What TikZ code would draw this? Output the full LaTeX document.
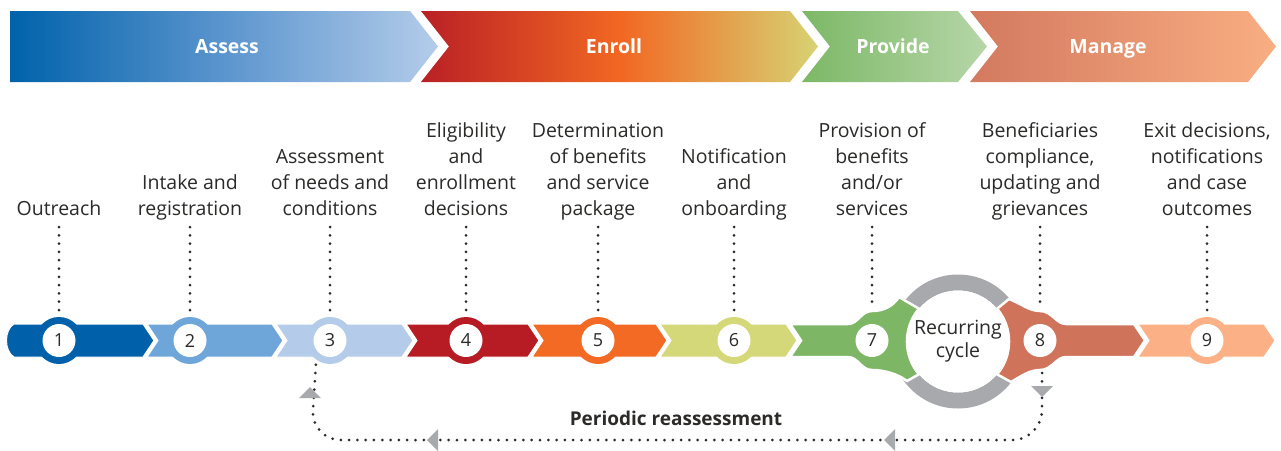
\documentclass[tikz,border=0pt]{standalone}
\usepackage{fontspec}
\setmainfont{Open Sans}
\definecolor{c1}{HTML}{0061AA}
\definecolor{c2}{HTML}{6FA6D9}
\definecolor{c3}{HTML}{B4CBEA}
\definecolor{c4}{HTML}{B71C25}
\definecolor{c5}{HTML}{F36A24}
\definecolor{c6}{HTML}{D5D878}
\definecolor{c7}{HTML}{7DB766}
\definecolor{c8}{HTML}{CF745B}
\definecolor{c9}{HTML}{FBB086}
\definecolor{cg}{HTML}{A7A9AC}
\definecolor{tx}{HTML}{2B2A29}
\definecolor{aL}{HTML}{0062AA}
\definecolor{aM}{HTML}{5B95CE}
\definecolor{aR}{HTML}{B4CCEA}
\definecolor{eL}{HTML}{B92025}
\definecolor{eM}{HTML}{F26722}
\definecolor{eR}{HTML}{D7D373}
\definecolor{pL}{HTML}{7CB866}
\definecolor{pR}{HTML}{B6D6A8}
\definecolor{mL}{HTML}{D3795F}
\definecolor{mR}{HTML}{F9AE82}
\begin{document}
\begin{tikzpicture}[x=1pt,y=-1pt,
  seg/.style={draw=white, line width=1pt, line join=miter},
  ring/.style={circle, minimum size=47pt, inner sep=0pt},
  num/.style={circle, fill=white, minimum size=33pt, inner sep=0pt, font=\fontsize{18}{20}\selectfont, text=tx},
  lbl/.style={anchor=south, align=center, font=\fontsize{19.5}{26}\selectfont, text=tx, inner sep=0pt, execute at end node=\strut},
  ban/.style={anchor=base, font=\bfseries\fontsize{19.5}{22}\selectfont, text=white},
  dotline/.style={draw=tx, line width=3pt, line cap=round, dash pattern=on 0pt off 8.3pt},
  tri/.style={fill=cg}]
\useasboundingbox (0,0) rectangle (1281,450);

% ---- top banner ----
\shade[left color=aL, right color=aR, middle color=aM] (10,11) -- (410,11) -- (438,46.5) -- (410,82) -- (10,82) -- cycle;
\shade[left color=eL, right color=eR, middle color=eM] (421,11) -- (790,11) -- (818,46.5) -- (790,82) -- (421,82) -- (449,46.5) -- cycle;
\shade[left color=pL, right color=pR] (802,11) -- (958,11) -- (987,46.5) -- (958,82) -- (802,82) -- (830,46.5) -- cycle;
\shade[left color=mL, right color=mR] (970,11) -- (1248,11) -- (1276,46.5) -- (1248,82) -- (970,82) -- (998,46.5) -- cycle;
\node[ban] (bA) at (227,53.5) {Assess};
\node[ban] (bE) at (614,53.5) {Enroll};
\node[ban] (bP) at (893,53.5) {Provide};
\node[ban] (bM) at (1108,53.5) {Manage};

% ---- bottom bar segments ----
\path[seg, fill=c1] (14,324) -- (143,324) -- (154,340.5) -- (143,357) -- (14,357) .. controls (4,351) and (4,330) .. (14,324) -- cycle;
\path[seg, fill=c2] (147,324) -- (272,324) -- (283,340.5) -- (272,357) -- (147,357) -- (158,340.5) -- cycle;
\path[seg, fill=c3] (276,324) -- (402,324) -- (413,340.5) -- (402,357) -- (276,357) -- (287,340.5) -- cycle;
\path[seg, fill=c4] (406,324) -- (528,324) -- (539,340.5) -- (528,357) -- (406,357) -- (417,340.5) -- cycle;
\path[seg, fill=c5] (532,324) -- (656,324) -- (667,340.5) -- (656,357) -- (532,357) -- (543,340.5) -- cycle;
\path[seg, fill=c6] (660,324) -- (786,324) -- (797,340.5) -- (786,357) -- (660,357) -- (671,340.5) -- cycle;

% recurring cycle ring
\path[fill=cg, even odd rule] (958,341.5) circle (67) (958,341.5) circle (51);

\path[seg, fill=c7, line width=2.5pt] (790,324) -- (848,324) .. controls (858,324) and (861,311) .. (872,311) .. controls (884,311) and (893,306) .. (899,297) -- (918.9,308.7) arc[start angle=-140, end angle=-220, radius=51] -- (907,381) .. controls (898,374) and (884,370) .. (872,370) .. controls (861,370) and (858,357) .. (848,357) -- (790,357) -- (801,340.5) -- cycle;
\path[seg, fill=c8, line width=2.5pt] (997.1,308.7) -- (1009,299) .. controls (1020,303) and (1029,311) .. (1040,311) .. controls (1052,311) and (1056,324) .. (1066,324) -- (1134,324) -- (1145,340.5) -- (1134,357) -- (1066,357) .. controls (1056,357) and (1052,370) .. (1040,370) .. controls (1029,370) and (1020,377) .. (1011,382) -- (997.1,374.3) arc[start angle=40, end angle=-40, radius=51] -- cycle;
\path[seg, fill=c9] (1138,324) -- (1264,324) -- (1275,340.5) -- (1264,357) -- (1138,357) -- (1149,340.5) -- cycle;

\node[circle, fill=white, minimum size=102pt, inner sep=0pt, align=center, font=\fontsize{19.5}{23}\selectfont, text=tx] (cyc) at (958,341.5) {Recurring\\cycle};

% ---- rings and numbers ----
\foreach \i/\x in {1/59,2/190,3/330,4/466,5/598,6/734,7/872,8/1040,9/1207}{
  \node[ring, fill=c\i] (r\i) at (\x,340.5) {};
  \node[num] (n\i) at (\x,340.5) {\i};
}

% ---- step labels ----
\node[lbl] (l1) at (59,223) {Outreach};
\node[lbl] (l2) at (190,223) {Intake and\\registration};
\node[lbl] (l3) at (330,223) {Assessment\\of needs and\\conditions};
\node[lbl] (l4) at (466,223) {Eligibility\\and\\enrollment\\decisions};
\node[lbl] (l5) at (598,223) {Determination\\of benefits\\and service\\package};
\node[lbl] (l6) at (734,223) {Notification\\and\\onboarding};
\node[lbl] (l7) at (872,223) {Provision of\\benefits\\and/or\\services};
\node[lbl] (l8) at (1040,223) {Beneficiaries\\compliance,\\updating and\\grievances};
\node[lbl] (l9) at (1207,223) {Exit decisions,\\notifications\\and case\\outcomes};

\foreach \i in {1,2,3,4,5,6,9}{
  \draw[dotline, shorten <=4pt, shorten >=5pt] (l\i.south -| r\i) -- (r\i.north);
}
\draw[dotline, shorten <=4pt, shorten >=10pt] (l7.south -| r7) -- (r7.north);
\draw[dotline, shorten <=4pt, shorten >=10pt] (l8.south -| r8) -- (r8.north);

% ---- periodic reassessment loop ----
\coordinate (lpL) at (316,363);
\coordinate (lpR) at (1042,373);
\draw[dotline, rounded corners=30pt] (lpR) -- (1042,440) -- (311,440) -- (lpL);
\fill[tri] (1031,386) -- (1053,386) -- (1042,397) -- cycle;
\fill[tri] (895,429) -- (895,451) -- (884,440) -- cycle;
\fill[tri] (438,429) -- (438,451) -- (427,440) -- cycle;
\fill[tri] (299,398) -- (321,398) -- (310,387) -- cycle;
\node[anchor=base, font=\bfseries\fontsize{19}{22}\selectfont, text=tx] (per) at (676,425) {Periodic reassessment};
\end{tikzpicture}
\end{document}
